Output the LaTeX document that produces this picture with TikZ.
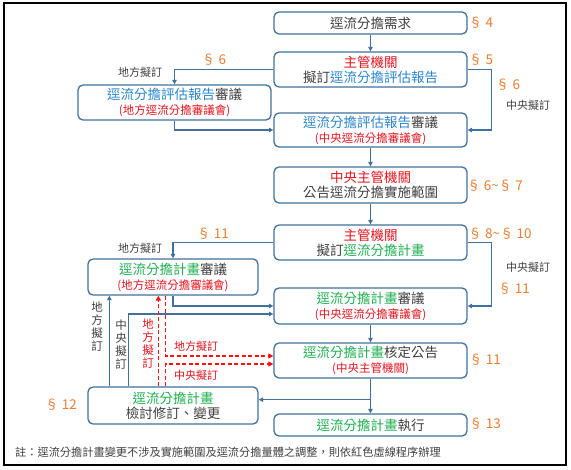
\documentclass[tikz,border=0pt]{standalone}
\usepackage{fontspec}
\setmainfont{Noto Sans CJK TC}
\usetikzlibrary{arrows.meta}
\definecolor{bx}{HTML}{41719C}
\definecolor{cblue}{HTML}{2B86CC}
\definecolor{cred}{HTML}{E5131D}
\definecolor{cgreen}{HTML}{1FAF50}
\definecolor{corange}{HTML}{ED7D31}
\definecolor{cgray}{HTML}{404040}
\definecolor{cdash}{HTML}{FF1010}
\newcommand\subl[1]{{\fontsize{11.5}{15}\selectfont\color{cred}#1}}
\begin{document}
\begin{tikzpicture}[x=1pt,y=-1pt,
  box/.style={draw=bx, line width=1.3pt, rounded corners=5pt, fill=white,
    minimum width=193pt, inner sep=0pt, align=center, text=cgray,
    font=\fontsize{13.5}{15}\selectfont},
  lbox/.style={box, minimum width=170pt},
  conn/.style={draw=bx, line width=1.2pt, -{Triangle[length=4.5pt,width=4.5pt]}},
  rconn/.style={draw=cdash, line width=1.4pt, dash pattern=on 4pt off 2.5pt, -{Triangle[length=5pt,width=5pt]}},
  sec/.style={text=corange, font=\fontsize{13.5}{15}\selectfont, inner sep=0pt},
  lab/.style={text=cgray, font=\fontsize{11}{13}\selectfont, inner sep=0pt, align=center},
  rlab/.style={lab, text=cred}
]
\useasboundingbox (0,0) rectangle (571,470);
\draw[line width=1.5pt, fill=white] (4,3) rectangle (566,465);

% boxes
\node[box, minimum height=22pt] (B1) at (370.5,23) {逕流分擔需求};
\node[box, minimum height=35pt] (B2) at (370.5,69.5) {{\color{cred}主管機關}\\擬訂{\color{cblue}逕流分擔評估報告}};
\node[box, minimum height=35pt] (B3) at (174.5,102.5) {{\color{cblue}逕流分擔評估報告}審議\\\subl{(地方逕流分擔審議會)}};
\node[box, minimum height=34pt] (B4) at (370.5,130) {{\color{cblue}逕流分擔評估報告}審議\\\subl{(中央逕流分擔審議會)}};
\node[box, minimum height=36pt] (B5) at (370.5,185) {{\color{cred}中央主管機關}\\公告逕流分擔實施範圍};
\node[box, minimum height=35pt] (B6) at (370.5,242.5) {{\color{cred}主管機關}\\擬訂{\color{cgreen}逕流分擔計畫}};
\node[lbox, minimum height=36pt] (B7) at (173,277) {{\color{cgreen}逕流分擔計畫}審議\\\subl{(地方逕流分擔審議會)}};
\node[box, minimum height=36pt] (B8) at (370.5,306) {{\color{cgreen}逕流分擔計畫}審議\\\subl{(中央逕流分擔審議會)}};
\node[box, minimum height=35pt] (B9) at (370.5,360.5) {{\color{cgreen}逕流分擔計畫}核定公告\\\subl{(中央主管機關)}};
\node[lbox, minimum height=37pt] (B10) at (173,405.5) {{\color{cgreen}逕流分擔計畫}\\檢討修訂、變更};
\node[box, minimum height=22pt] (B11) at (370.5,425) {{\color{cgreen}逕流分擔計畫}執行};

% section labels
\node[sec] (s4) at (481,23) {§ 4};
\node[sec] (s5) at (481,60) {§ 5};
\node[sec] (s6a) at (214,60) {§ 6};
\node[sec] (s6b) at (508,85) {§ 6};
\node[sec] (s67) at (495,186) {§ 6\string~§ 7};
\node[sec] (s11a) at (213,234) {§ 11};
\node[sec] (s810) at (500,234) {§ 8\string~§ 10};
\node[sec] (s11b) at (514,289) {§ 11};
\node[sec] (s11c) at (485,360) {§ 11};
\node[sec] (s12) at (61,405) {§ 12};
\node[sec] (s13) at (485,424) {§ 13};

% text labels
\node[lab] (l1) at (140,72) {地方擬訂};
\node[lab] (l2) at (528,105) {中央擬訂};
\node[lab] (l3) at (140,248) {地方擬訂};
\node[lab] (l4) at (528,267) {中央擬訂};
\node[lab, font=\fontsize{11.5}{13}\selectfont] (l5) at (97,327) {地\\方\\擬\\訂};
\node[lab, font=\fontsize{11.5}{13}\selectfont] (l6) at (121,345) {中\\央\\擬\\訂};
\node[rlab, font=\fontsize{11.5}{13}\selectfont] (l7) at (148,344) {地\\方\\擬\\訂};
\node[rlab] (l8) at (196,346) {地方擬訂};
\node[rlab] (l9) at (196,375) {中央擬訂};
\node[lab, anchor=west, font=\fontsize{11.2}{13}\selectfont] (note) at (15,452) {註：逕流分擔計畫變更不涉及實施範圍及逕流分擔量體之調整，則依紅色虛線程序辦理};

% connectors
\draw[conn] (B1) -- (B2);
\draw[conn] (B2.west) -| (B3.north);
\draw[conn] (B2.east) -- ++(24,0) |- (B4.east);
\draw[conn] (B3.south) |- (B4.west);
\draw[conn] (B4) -- (B5);
\draw[conn] (B5) -- (B6);
\draw[conn] (B6.west) -| (B7.north);
\draw[conn] (B6.east) -- ++(24,0) |- (B8.east);
\draw[conn] (B7.south) |- (B8.west);
\draw[conn] (B8) -- (B9);
\draw[conn] (B9) -- (B11);
\path (B9.south) ++(0,21) coordinate (j);
\draw[conn] (j) -- (j -| B10.east);
\draw[conn] ([xshift=22pt]B10.north west) -- ([xshift=22pt]B7.south west);
\draw[conn] ([xshift=41pt]B10.north west) |- ([yshift=-8pt]B8.west);
\draw[rconn] ([xshift=71pt]B10.north west) -- ([xshift=71pt]B7.south west);
\draw[rconn] ([xshift=78pt]B7.south west) |- ([yshift=4.5pt]B9.west);
\draw[rconn] ([xshift=78pt]B10.north west) |- ([yshift=-3.5pt]B9.west);
\end{tikzpicture}
\end{document}
